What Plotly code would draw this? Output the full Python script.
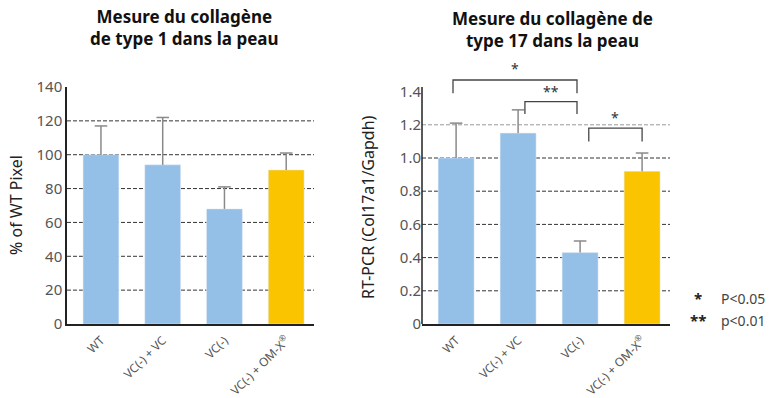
import plotly.graph_objects as go

# Groups and measured values
groups = ["WT", "VC(-) + VC", "VC(-)", "VC(-) + OM-X<sup>®</sup>"]

type1_mean = [100, 94, 68, 91]
type1_upper = [117, 122, 81, 101]

type17_mean = [1.0, 1.15, 0.43, 0.92]
type17_upper = [1.21, 1.29, 0.50, 1.03]

left_ticks = [0, 20, 40, 60, 80, 100, 120, 140]
right_ticks = [0, 0.2, 0.4, 0.6, 0.8, 1.0, 1.2, 1.4]
right_ticktext = ["0", "0.2", "0.4", "0.6", "0.8", "1.0", "1.2", "1.4"]

BLUE = "#94bfe6"
GOLD = "#fac400"
bar_colors = [BLUE, BLUE, BLUE, GOLD]
ERR_GREY = "#8a8a8a"

FONT = "Noto Sans"
TICK_GREY = "#555555"

xpos = list(range(len(groups)))

fig = go.Figure()


def add_panel(means, uppers, xa, ya):
    fig.add_trace(go.Bar(x=xpos, y=means, marker_color=bar_colors, width=0.58,
                         xaxis=xa, yaxis=ya, showlegend=False))
    # upper-only error bars: stem from bar top to upper limit, cap at the limit
    sx, sy = [], []
    for x, m, u in zip(xpos, means, uppers):
        sx += [x, x, None]
        sy += [m, u, None]
    fig.add_trace(go.Scatter(x=sx, y=sy, mode="lines",
                             line=dict(color=ERR_GREY, width=1.5),
                             xaxis=xa, yaxis=ya, showlegend=False, hoverinfo="skip"))
    fig.add_trace(go.Scatter(x=xpos, y=uppers, mode="markers",
                             marker=dict(symbol="line-ew", size=9,
                                         line=dict(color=ERR_GREY, width=1.5)),
                             xaxis=xa, yaxis=ya, showlegend=False, hoverinfo="skip",
                             cliponaxis=False))


add_panel(type1_mean, type1_upper, "x", "y")
add_panel(type17_mean, type17_upper, "x2", "y2")

xcommon = dict(
    range=[-0.55, 3.45], tickmode="array", tickvals=xpos, ticktext=groups,
    tickangle=-45, tickfont=dict(family=FONT, size=12, color=TICK_GREY),
    showline=True, linecolor="#222222", linewidth=1.5,
    ticks="outside", ticklen=3, tickcolor="rgba(0,0,0,0)",
    showgrid=False, zeroline=False, fixedrange=True, automargin=False,
)
PX_BOTTOM = 324
PX_UNIT_R = 166.0  # pixels per unit on the right value axis
Y2_MAX = 1.6
y_left_domain = [1 - PX_BOTTOM / 398, 1 - 87 / 398]
y_right_domain = [1 - PX_BOTTOM / 398, 1 - (PX_BOTTOM - Y2_MAX * PX_UNIT_R) / 398]

fig.update_layout(
    width=771, height=398,
    margin=dict(l=0, r=0, t=0, b=0, autoexpand=False),
    paper_bgcolor="white", plot_bgcolor="rgba(0,0,0,0)",
    xaxis=dict(domain=[67 / 771, 314 / 771], anchor="y", **xcommon),
    xaxis2=dict(domain=[422 / 771, 670 / 771], anchor="y2", **xcommon),
    yaxis=dict(domain=y_left_domain, anchor="x", range=[0, 140],
               tickmode="array", tickvals=left_ticks,
               tickfont=dict(family=FONT, size=15, color=TICK_GREY),
               showline=True, linecolor="#222222", linewidth=1.5,
               showgrid=False, zeroline=False, ticks="", fixedrange=True,
               automargin=False),
    yaxis2=dict(domain=y_right_domain, anchor="x2", range=[0, Y2_MAX],
                tickmode="array", tickvals=right_ticks, ticktext=right_ticktext,
                tickfont=dict(family=FONT, size=15, color=TICK_GREY),
                showline=False, showgrid=False, zeroline=False, ticks="",
                fixedrange=True, automargin=False),
)

shapes = []
# Dashed horizontal gridlines
for v in left_ticks[1:-1]:
    shapes.append(dict(type="line", xref="x domain", yref="y",
                       x0=0, x1=1, y0=v, y1=v, layer="below",
                       line=dict(color="#333333", width=1, dash="4px,2px")))
for v in right_ticks[1:-1]:
    col = "#999999" if v >= 1.2 else "#333333"
    shapes.append(dict(type="line", xref="x2 domain", yref="y2",
                       x0=0, x1=1, y0=v, y1=v, layer="below",
                       line=dict(color=col, width=1, dash="4px,2px")))
# Right value-axis line stops at the top tick (space above holds the brackets)
shapes.append(dict(type="line", xref="x2 domain", yref="y2",
                   x0=0, x1=0, y0=0, y1=1.428,
                   line=dict(color="#222222", width=1.5)))

# Significance brackets (x in group units, y in data units)
brackets = [
    # x_left, x_right, y_top, y_left_end, y_right_end
    (-0.05, 1.95, 1.47, 1.39, 1.39),
    (1.11, 1.95, 1.34, 1.265, 1.265),
    (2.14, 3.0, 1.18, 1.10, 1.10),
]
for xl, xr, yt, yle, yre in brackets:
    shapes.append(dict(
        type="path", xref="x2", yref="y2",
        path=f"M {xl},{yle} L {xl},{yt} L {xr},{yt} L {xr},{yre}",
        line=dict(color="#444444", width=1.3),
    ))
fig.update_layout(shapes=shapes)

annotations = []
star_marks = [(0.95, 1.54, "*"), (1.53, 1.40, "**"), (2.57, 1.245, "*")]
for x, y, t in star_marks:
    annotations.append(dict(x=x, y=y, xref="x2", yref="y2", text=t,
                            showarrow=False, yanchor="middle",
                            font=dict(family=FONT, size=14, color="#333333")))

# Titles
annotations.append(dict(
    x=184 / 771, y=1 - 28 / 398, xref="paper", yref="paper",
    text="<b>Mesure du collagène<br>de type 1 dans la peau</b>",
    showarrow=False, xanchor="center", yanchor="middle",
    font=dict(family=FONT, size=17, color="#111111")))
annotations.append(dict(
    x=552 / 771, y=1 - 29 / 398, xref="paper", yref="paper",
    text="<b>Mesure du collagène de<br>type 17 dans la peau</b>",
    showarrow=False, xanchor="center", yanchor="middle",
    font=dict(family=FONT, size=17, color="#111111")))

# Axis titles
annotations.append(dict(
    x=16 / 771, y=1 - 205 / 398, xref="paper", yref="paper",
    text="% of WT Pixel", textangle=-90, showarrow=False,
    xanchor="center", yanchor="middle",
    font=dict(family=FONT, size=16, color="#222222")))
annotations.append(dict(
    x=368 / 771, y=1 - 207 / 398, xref="paper", yref="paper",
    text="RT-PCR (Col17a1/Gapdh)", textangle=-90, showarrow=False,
    xanchor="center", yanchor="middle",
    font=dict(family=FONT, size=16, color="#222222")))

# Significance key
key = [("*", "P<0.05", 298), ("**", "p<0.01", 320)]
for star, label, ypx in key:
    annotations.append(dict(
        x=698 / 771, y=1 - ypx / 398, xref="paper", yref="paper",
        text=f"<b>{star}</b>", showarrow=False, xanchor="center", yanchor="middle",
        font=dict(family=FONT, size=15, color="#222222")))
    annotations.append(dict(
        x=719 / 771, y=1 - ypx / 398, xref="paper", yref="paper",
        text=label, showarrow=False, xanchor="left", yanchor="middle",
        font=dict(family=FONT, size=14, color="#444444")))

fig.update_layout(annotations=annotations)

fig.write_html("out.html")
